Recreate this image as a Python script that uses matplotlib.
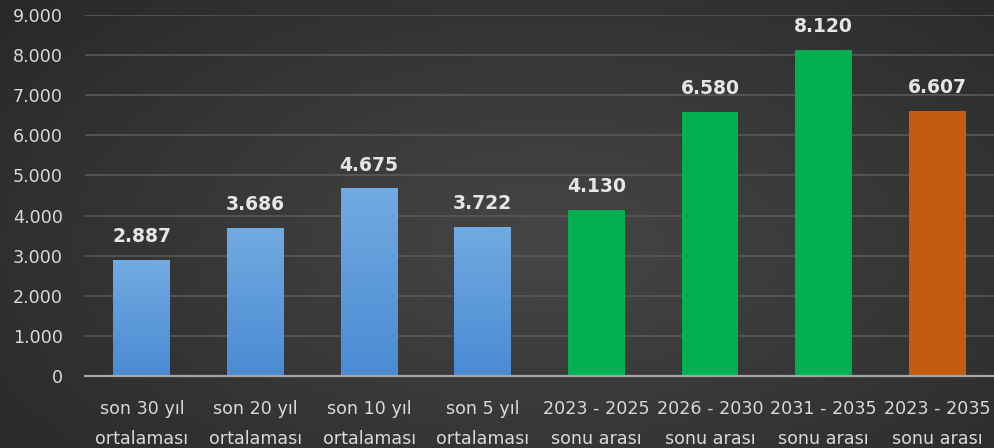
import numpy as np
import matplotlib
matplotlib.use("Agg")
import matplotlib.pyplot as plt
from matplotlib.colors import LinearSegmentedColormap

categories = [
    "son 30 yıl\nortalaması", "son 20 yıl\nortalaması", "son 10 yıl\nortalaması",
    "son 5 yıl\nortalaması", "2023 - 2025\nsonu arası", "2026 - 2030\nsonu arası",
    "2031 - 2035\nsonu arası", "2023 - 2035\nsonu arası",
]
values = [2887, 3686, 4675, 3722, 4130, 6580, 8120, 6607]
groups = ["past", "past", "past", "past", "plan", "plan", "plan", "total"]
y_ticks = [0, 1000, 2000, 3000, 4000, 5000, 6000, 7000, 8000, 9000]

def fmt(v):
    return f"{v:,}".replace(",", ".")

plt.rcParams["font.family"] = ["DejaVu Sans"]

fig = plt.figure(figsize=(9.94, 4.48), dpi=100)

# dark radial background
bg = fig.add_axes([0, 0, 1, 1], zorder=0)
yy, xx = np.mgrid[0:1:300j, 0:1:600j]
r = np.sqrt(((xx - 0.55) / 0.75) ** 2 + ((yy - 0.55) / 0.9) ** 2)
bg_cmap = LinearSegmentedColormap.from_list("bg", ["#464646", "#363636", "#272727"])
bg.imshow(np.clip(r, 0, 1), cmap=bg_cmap, aspect="auto", extent=[0, 1, 0, 1], vmin=0, vmax=1)
bg.axis("off")

ax = fig.add_axes([85 / 994, 1 - 376 / 448, 909 / 994, 361 / 448], zorder=1)
ax.patch.set_alpha(0)

x = np.arange(len(values))
flat_colors = {"past": "#5b9bd5", "plan": "#00b050", "total": "#c55a11"}
bars = ax.bar(x, values, width=0.5, color=[flat_colors[g] for g in groups], zorder=3)

# vertical gradient on the historical bars
blue_cmap = LinearSegmentedColormap.from_list("blue", ["#4a8bd3", "#72aae2"])
grad = np.linspace(0, 1, 256).reshape(-1, 1)
for b, g in zip(bars, groups):
    if g == "past":
        x0, w, h = b.get_x(), b.get_width(), b.get_height()
        im = ax.imshow(grad, cmap=blue_cmap, aspect="auto", origin="lower",
                       extent=[x0, x0 + w, 0, h], zorder=3.5)
        im.set_clip_path(b)

for xi, v in zip(x, values):
    ax.annotate(fmt(v), (xi, v), xytext=(0, 10), textcoords="offset points",
                ha="center", va="bottom", color="#e6e6e6", fontsize=13.5,
                fontweight="bold", zorder=5)

ax.set_xlim(-0.5, len(values) - 0.5)
ax.set_ylim(0, 9000)
ax.set_yticks(y_ticks)
ax.set_yticklabels([fmt(t) for t in y_ticks])
ax.set_xticks(x)
ax.set_xticklabels(categories, linespacing=1.8)
ax.tick_params(axis="both", length=0, colors="#d9d9d9", labelsize=12.6)
ax.tick_params(axis="y", pad=16)
ax.tick_params(axis="x", pad=17.5)
ax.grid(axis="y", color="#595959", linewidth=1.2, zorder=0)
for s in ["top", "right", "left"]:
    ax.spines[s].set_visible(False)
ax.spines["bottom"].set_color("#a6a6a6")
ax.spines["bottom"].set_linewidth(1.6)
ax.spines["bottom"].set_zorder(4)

fig.savefig("out.png", dpi=100)
